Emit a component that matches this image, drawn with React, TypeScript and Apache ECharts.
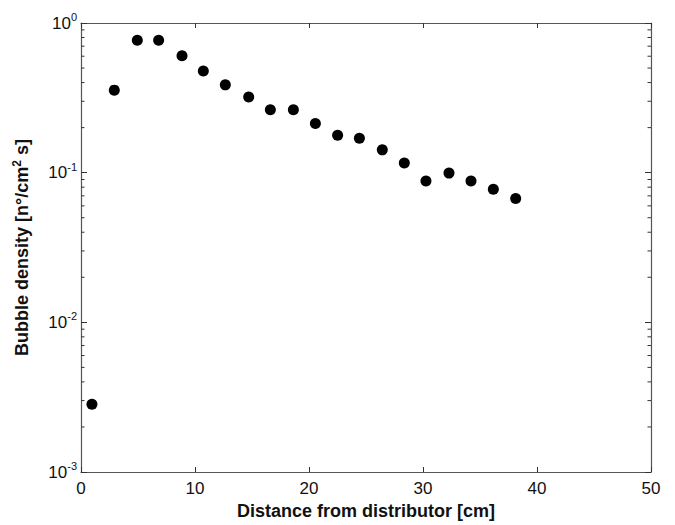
import React, { useEffect, useRef } from "react";
import * as echarts from "echarts";

const distanceCm = [0.96, 2.92, 4.94, 6.81, 8.86, 10.73, 12.66, 14.71, 16.61, 18.63, 20.56, 22.51, 24.42, 26.43, 28.36, 30.26, 32.28, 34.21, 36.17, 38.13];
const bubbleDensity = [0.00284, 0.356, 0.766, 0.766, 0.604, 0.478, 0.386, 0.32, 0.263, 0.263, 0.213, 0.178, 0.17, 0.142, 0.116, 0.088, 0.0993, 0.088, 0.0776, 0.0673];
const xTicks = { min: 0, max: 50, interval: 10 };
const yRange = { min: 0.001, max: 1 };
const minorTickValues = [
  0.002, 0.003, 0.004, 0.005, 0.006, 0.007, 0.008, 0.009,
  0.02, 0.03, 0.04, 0.05, 0.06, 0.07, 0.08, 0.09,
  0.2, 0.3, 0.4, 0.5, 0.6, 0.7, 0.8, 0.9,
];
const xTitle = "Distance from distributor [cm]";

const FONT = "'Liberation Sans', Arial, Helvetica, sans-serif";
const AXIS_COLOR = "#555";
const TEXT_COLOR = "#111";

export default function App() {
  const ref = useRef<HTMLDivElement>(null);
  useEffect(() => {
    document.body.style.margin = "0";
    if (!ref.current) return;
    const chart = echarts.init(ref.current, null, { renderer: "svg" });
    const points = distanceCm.map((x, i) => [x, bubbleDensity[i]]);
    const commonX = {
      type: "value" as const,
      min: xTicks.min,
      max: xTicks.max,
      interval: xTicks.interval,
      splitLine: { show: false },
      axisLine: { show: true, onZero: false, lineStyle: { color: AXIS_COLOR, width: 1.2 } },
      axisTick: { show: true, inside: true, length: 5, lineStyle: { color: "#333", width: 1 } },
    };
    const commonY = {
      type: "log" as const,
      logBase: 10,
      min: yRange.min,
      max: yRange.max,
      splitLine: { show: false },
      axisLine: { show: true, onZero: false, lineStyle: { color: AXIS_COLOR, width: 1.2 } },
      axisTick: { show: true, inside: true, length: 6, lineStyle: { color: "#333", width: 1 } },
    };
    chart.setOption({
      animation: false,
      backgroundColor: "#fff",
      grid: { left: 81, right: 24, top: 23, bottom: 53, containLabel: false },
      xAxis: [
        {
          ...commonX,
          position: "bottom",
          name: xTitle,
          nameLocation: "middle",
          nameGap: 30,
          nameTextStyle: { fontFamily: FONT, fontSize: 18, fontWeight: "bold", color: TEXT_COLOR },
          axisLabel: { show: true, margin: 8, fontFamily: FONT, fontSize: 17, color: TEXT_COLOR },
        },
        { ...commonX, position: "top", axisLabel: { show: false } },
      ],
      yAxis: [
        {
          ...commonY,
          position: "left",
          name: "{t|Bubble density [n°/cm}{sup|2}{t| s]}",
          nameLocation: "middle",
          nameGap: 48,
          nameTextStyle: {
            fontFamily: FONT,
            fontSize: 18,
            fontWeight: "bold",
            color: TEXT_COLOR,
            rich: {
              t: { fontFamily: FONT, fontSize: 18, fontWeight: "bold", color: TEXT_COLOR },
              sup: { fontFamily: FONT, fontSize: 12, fontWeight: "bold", color: TEXT_COLOR, padding: [0, 0, 10, 0] },
            },
          },
          axisLabel: {
            show: true,
            margin: 4,
            color: TEXT_COLOR,
            formatter: (v: number) => `{b|10}{s|${Math.round(Math.log10(v))}}`,
            rich: {
              b: { fontFamily: FONT, fontSize: 17, color: TEXT_COLOR },
              s: { fontFamily: FONT, fontSize: 11, color: TEXT_COLOR, padding: [0, 0, 12, 0] },
            },
          },
        },
        { ...commonY, position: "right", axisLabel: { show: false } },
      ],
      series: [
        {
          type: "scatter",
          xAxisIndex: 0,
          yAxisIndex: 0,
          data: points,
          symbol: "circle",
          symbolSize: 11,
          itemStyle: { color: "#000", opacity: 1 },
        },
        {
          type: "custom",
          xAxisIndex: 0,
          yAxisIndex: 0,
          silent: true,
          clip: false,
          data: minorTickValues.map((v) => [xTicks.min, v]),
          encode: { x: 0, y: 1 },
          renderItem: (_params: any, api: any) => {
            const v = api.value(1);
            const l = api.coord([xTicks.min, v]);
            const r = api.coord([xTicks.max, v]);
            const style = { stroke: "#333", lineWidth: 1 };
            return {
              type: "group",
              children: [
                { type: "line", shape: { x1: l[0], y1: l[1], x2: l[0] + 3.5, y2: l[1] }, style },
                { type: "line", shape: { x1: r[0], y1: r[1], x2: r[0] - 3.5, y2: r[1] }, style },
              ],
            };
          },
        },
      ],
    });
    return () => chart.dispose();
  }, []);
  return <div ref={ref} style={{ width: 675, height: 525 }} />;
}
